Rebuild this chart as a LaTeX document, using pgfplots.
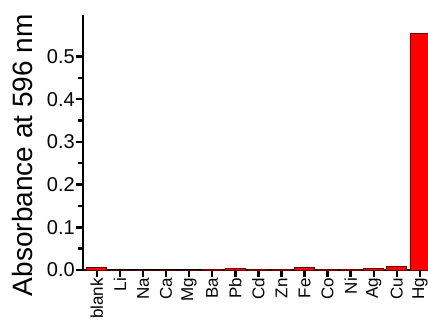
\documentclass[border=0pt]{standalone}
\usepackage{fontspec}
\setmainfont{Liberation Sans}
\usepackage{pgfplots}
\pgfplotsset{compat=1.18}
\definecolor{edgered}{rgb}{0.45,0,0}
\begin{document}
\begin{tikzpicture}
\path[use as bounding box, clip] (-83pt,-54pt) rectangle (345pt,270pt);
\begin{axis}[
  at={(0pt,0pt)}, anchor=south west,
  scale only axis,
  width=345pt, height=255pt,
  xmin=-0.6, xmax=14.35,
  ymin=0, ymax=0.597,
  axis x line*=bottom, axis y line*=left,
  axis line style={-, line width=1.6pt},
  tick align=outside,
  major tick length=7pt, minor tick length=4.5pt,
  every tick/.append style={draw=black, line width=2.5pt},
  xtick={0,...,14},
  xticklabels={blank,Li,Na,Ca,Mg,Ba,Pb,Cd,Zn,Fe,Co,Ni,Ag,Cu,Hg},
  xticklabel style={rotate=90, anchor=east, font=\fontsize{17}{17}\selectfont, inner sep=1pt},
  ytick={0,0.1,0.2,0.3,0.4,0.5},
  minor y tick num=1,
  yticklabel style={/pgf/number format/fixed, /pgf/number format/fixed zerofill, /pgf/number format/precision=1, font=\fontsize{20}{20}\selectfont, inner sep=1pt},
  /pgf/number format/assume math mode=true,
  ylabel={Absorbance at 596 nm},
  ylabel style={at={(axis description cs:-0.145,0.45)}, anchor=base, font=\fontsize{28}{28}\selectfont},
]
\addplot[ybar, bar width=20pt, fill=red, draw=edgered, line width=0.8pt] coordinates {
(0,0.005) (1,0) (2,0) (3,0) (4,0) (5,0.002) (6,0.004) (7,0.001) (8,0.002) (9,0.005) (10,0.001) (11,0.002) (12,0.004) (13,0.008) (14,0.553)
};
\end{axis}
\end{tikzpicture}
\end{document}
